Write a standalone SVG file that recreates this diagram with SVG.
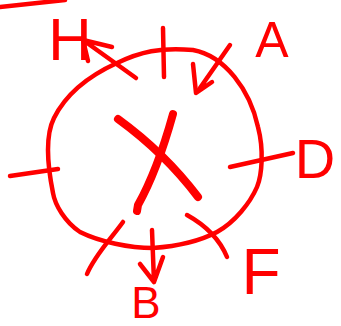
<svg xmlns="http://www.w3.org/2000/svg" width="341" height="326" viewBox="0 0 341 326">
<style>
.s{fill:none;stroke:#ff0000;stroke-width:4.5;stroke-linecap:round;stroke-linejoin:round}
.x{fill:none;stroke:#ff0000;stroke-width:8;stroke-linecap:round;stroke-linejoin:round}
.t{fill:#ff0000;font-family:"Liberation Sans",Arial,sans-serif;text-anchor:middle}
</style>
<rect width="341" height="326" fill="#ffffff"/>
<g id="topline"><path class="s" d="M0,7 L65,0"/></g>
<g id="circle">
<path class="s" d="M48,150 C48,138 49,128 54,118 C64,98 84,78 117,63 C140,52 160,47 193,50 C225,56 250,90 258,127 C264,150 262,175 257,187 C250,203 235,222 217,232 C200,241 180,246 153,248 C130,248 100,242 80,232 C65,222 55,205 53,193 C50,178 48,162 48,150 Z"/>
</g>
<g id="X">
<path class="x" d="M118,119 C140,135 170,160 198,197"/>
<path class="x" d="M173,114 C163,150 152,180 138,205 L137,211"/>
</g>
<g id="connectors">
<path class="s" d="M10,176 L58,169"/>
<path class="s" d="M230,167 L293,153"/>
<path class="s" d="M163,28 L164,77"/>
<path class="s" d="M136,78 L83,40 M112,47 L83,40 L88,61"/>
<path class="s" d="M230,45 L200,88 M193,64 L196,93 L212,82"/>
<path class="s" d="M123,222 C110,240 95,255 87,274"/>
<path class="s" d="M152,230 L154,282 M140,264 L154,282 L163,257"/>
<path class="s" d="M187,215 C205,225 220,240 227,257"/>
</g>
<g id="label-H"><text class="t" x="70" y="60" font-size="60">H</text></g>
<g id="label-A"><text class="t" x="272" y="57" font-size="50">A</text></g>
<g id="label-D"><text class="t" x="315" y="178" font-size="56">D</text></g>
<g id="label-F"><text class="t" x="261" y="294" font-size="64">F</text></g>
<g id="label-B"><text class="t" x="146" y="318" font-size="44">B</text></g>
</svg>
